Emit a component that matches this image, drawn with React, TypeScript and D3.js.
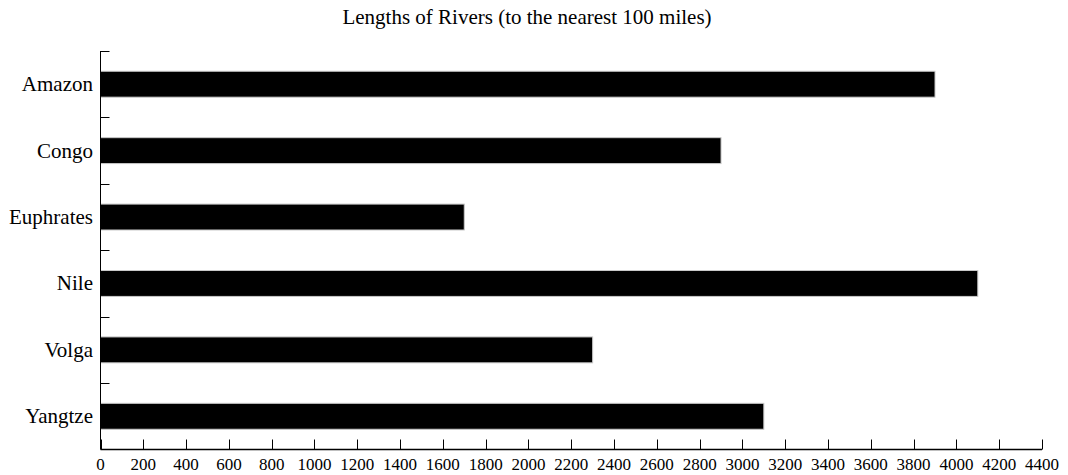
import React from "react";
import * as d3 from "d3";

const rivers = ["Amazon", "Congo", "Euphrates", "Nile", "Volga", "Yangtze"];
const lengths = [3900, 2900, 1700, 4100, 2300, 3100];
const xTicks = d3.range(0, 4401, 200);
const title = "Lengths of Rivers (to the nearest 100 miles)";

const W = 1068;
const H = 475;
const left = 100.5;
const right = 1042;
const top = 51;
const bottom = 449.5;
const font = "'Liberation Serif', 'Times New Roman', serif";

export default function App() {
  const x = d3.scaleLinear().domain([0, 4400]).range([left, right]);
  const y = d3
    .scaleBand<string>()
    .domain(rivers)
    .range([top, bottom])
    .paddingInner(0.61)
    .paddingOuter(0.305);
  const step = y.step();
  const boundaries = d3.range(0, rivers.length).map((i) => top + i * step);

  return (
    <svg
      width={W}
      height={H}
      style={{ position: "absolute", left: 0, top: 0, background: "#fff" }}
      fontFamily={font}
    >
      <text x={527} y={24} textAnchor="middle" fontSize={21} fill="#000">
        {title}
      </text>
      {rivers.map((r, i) => (
        <rect
          key={r}
          x={x(0)}
          y={y(r)!}
          width={x(lengths[i]) - x(0)}
          height={y.bandwidth()}
          fill="#000"
          stroke="#c8c8c8"
          strokeWidth={1}
        />
      ))}
      {/* y axis */}
      <line x1={left} x2={left} y1={top} y2={bottom} stroke="#000" strokeWidth={1} />
      {boundaries.map((b, i) => (
        <line key={i} x1={left} x2={left + 9} y1={Math.round(b) + 0.5} y2={Math.round(b) + 0.5} stroke="#000" strokeWidth={1} />
      ))}
      {rivers.map((r) => (
        <text
          key={r}
          x={93}
          y={y(r)! + y.bandwidth() / 2}
          dy="0.33em"
          textAnchor="end"
          fontSize={21}
          fill="#000"
        >
          {r}
        </text>
      ))}
      {/* x axis */}
      <line x1={left} x2={right} y1={bottom} y2={bottom} stroke="#000" strokeWidth={1.5} />
      {xTicks.map((t) => (
        <g key={t}>
          <line x1={Math.round(x(t)) + 0.5} x2={Math.round(x(t)) + 0.5} y1={bottom} y2={bottom - 10} stroke="#000" strokeWidth={1} />
          <text x={x(t)} y={470} textAnchor="middle" fontSize={17} fill="#000">
            {t}
          </text>
        </g>
      ))}
    </svg>
  );
}
